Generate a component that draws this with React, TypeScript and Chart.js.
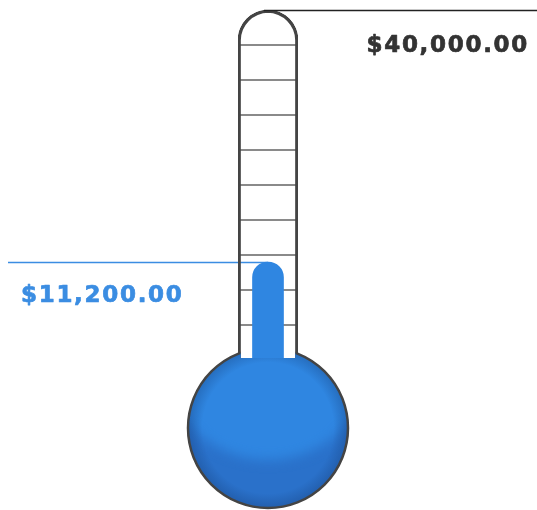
import React, { useEffect, useRef } from "react";
import { Chart, registerables } from "chart.js";

Chart.register(...registerables);

const categories = ["Fundraising"];
const raisedValues = [11200];
const goalValues = [40000];
const tickStep = 4000;

const fmt = (v: number) =>
  "$" + v.toLocaleString("en-US", { minimumFractionDigits: 2, maximumFractionDigits: 2 });

const W = 537;
const H = 510;

function drawLabel(ctx: any, text: string, x: number, y: number, color: string, align: string) {
  ctx.save();
  ctx.font = 'bold 23px "DejaVu Sans"';
  ctx.letterSpacing = "1.7px";
  ctx.textBaseline = "middle";
  ctx.textAlign = align;
  ctx.fillStyle = color;
  ctx.strokeStyle = color;
  ctx.lineWidth = 0.7;
  ctx.lineJoin = "round";
  ctx.fillText(text, x, y);
  ctx.strokeText(text, x, y);
  ctx.restore();
}

const thermoPlugin = {
  id: "thermo",
  beforeDatasetsDraw(chart: any) {
    const ctx = chart.ctx;
    const y = chart.scales.y;
    const fill = chart.getDatasetMeta(0).data[0];
    const vy = y.getPixelForValue(raisedValues[0]);
    ctx.save();
    ctx.strokeStyle = "#3b8de2";
    ctx.lineWidth = 1.5;
    ctx.beginPath();
    ctx.moveTo(8, vy + 0.5);
    ctx.lineTo(fill.x, vy + 0.5);
    ctx.stroke();
    ctx.restore();
  },
  afterDatasetsDraw(chart: any) {
    const ctx = chart.ctx;
    const y = chart.scales.y;
    const tube = chart.getDatasetMeta(1).data[0];
    const cx = tube.x;
    const half = tube.width / 2;
    const zeroY = y.getPixelForValue(0);
    const cy = zeroY + 68;
    const r = 80;
    const neckY = zeroY - 2;

    ctx.save();
    ctx.beginPath();
    ctx.rect(0, 0, cx - half + 2.5, H);
    ctx.rect(cx + half - 2.5, 0, W, H);
    ctx.rect(0, neckY, W, H);
    ctx.clip();

    ctx.save();
    ctx.beginPath();
    ctx.arc(cx, cy, r, 0, Math.PI * 2);
    ctx.clip();
    ctx.fillStyle = "rgb(42,113,202)";
    ctx.fillRect(cx - r - 5, cy - r - 5, 2 * r + 10, 2 * r + 10);
    ctx.filter = "blur(6px)";
    ctx.fillStyle = "rgb(47,134,225)";
    ctx.beginPath();
    ctx.ellipse(cx, cy - 51, 95, 83, 0, 0, Math.PI * 2);
    ctx.fill();
    ctx.filter = "none";
    const g = ctx.createRadialGradient(cx, cy, r * 0.82, cx, cy, r);
    g.addColorStop(0, "rgba(20,60,120,0)");
    g.addColorStop(1, "rgba(20,60,120,0.35)");
    ctx.fillStyle = g;
    ctx.fillRect(cx - r - 5, cy - r - 5, 2 * r + 10, 2 * r + 10);
    ctx.restore();

    ctx.beginPath();
    ctx.arc(cx, cy, r, 0, Math.PI * 2);
    ctx.strokeStyle = "#444";
    ctx.lineWidth = 2.5;
    ctx.stroke();
    ctx.restore();

    // goal line and label
    const gy = y.getPixelForValue(goalValues[0]);
    ctx.save();
    ctx.strokeStyle = "#222";
    ctx.lineWidth = 1.5;
    ctx.beginPath();
    ctx.moveTo(cx - 4, gy + 0.5);
    ctx.lineTo(W, gy + 0.5);
    ctx.stroke();
    ctx.restore();

    drawLabel(ctx, fmt(goalValues[0]), 529, gy + 36, "#333", "right");
    const vy = y.getPixelForValue(raisedValues[0]);
    drawLabel(ctx, fmt(raisedValues[0]), 21, vy + 34, "#3b8de2", "left");
  },
};

export default function App() {
  const ref = useRef<HTMLCanvasElement>(null);
  useEffect(() => {
    const chart = new Chart(ref.current as HTMLCanvasElement, {
      type: "bar",
      data: {
        labels: categories,
        datasets: [
          {
            label: "Raised",
            data: raisedValues,
            backgroundColor: "rgb(47,134,225)",
            borderWidth: 0,
            barThickness: 31,
            borderRadius: { topLeft: 15.5, topRight: 15.5, bottomLeft: 0, bottomRight: 0 },
            borderSkipped: false,
            grouped: false,
            order: 0,
          },
          {
            label: "Goal",
            data: goalValues,
            backgroundColor: "rgba(0,0,0,0)",
            borderColor: "#444",
            borderWidth: 2.5,
            barPercentage: 1,
            categoryPercentage: 1,
            borderRadius: { topLeft: 30, topRight: 30, bottomLeft: 0, bottomRight: 0 },
            borderSkipped: "start",
            grouped: false,
            order: 1,
          },
        ],
      },
      options: {
        responsive: false,
        animation: false,
        layout: { padding: { top: 10, bottom: 150, left: 238, right: 239 } },
        plugins: { legend: { display: false }, tooltip: { enabled: false } },
        scales: {
          x: { display: false },
          y: {
            display: true,
            min: 0,
            max: goalValues[0],
            ticks: { display: false, stepSize: tickStep },
            border: { display: false },
            grid: {
              drawTicks: false,
              lineWidth: 2,
              color: (c: any) =>
                c.tick && (c.tick.value === 0 || c.tick.value === goalValues[0])
                  ? "rgba(0,0,0,0)"
                  : "#8a8a8a",
            },
          },
        },
      },
      plugins: [thermoPlugin],
    });
    return () => chart.destroy();
  }, []);
  return (
    <div style={{ position: "fixed", left: 0, top: 0, width: W, height: H, background: "#fff" }}>
      <canvas ref={ref} width={W} height={H} />
    </div>
  );
}
